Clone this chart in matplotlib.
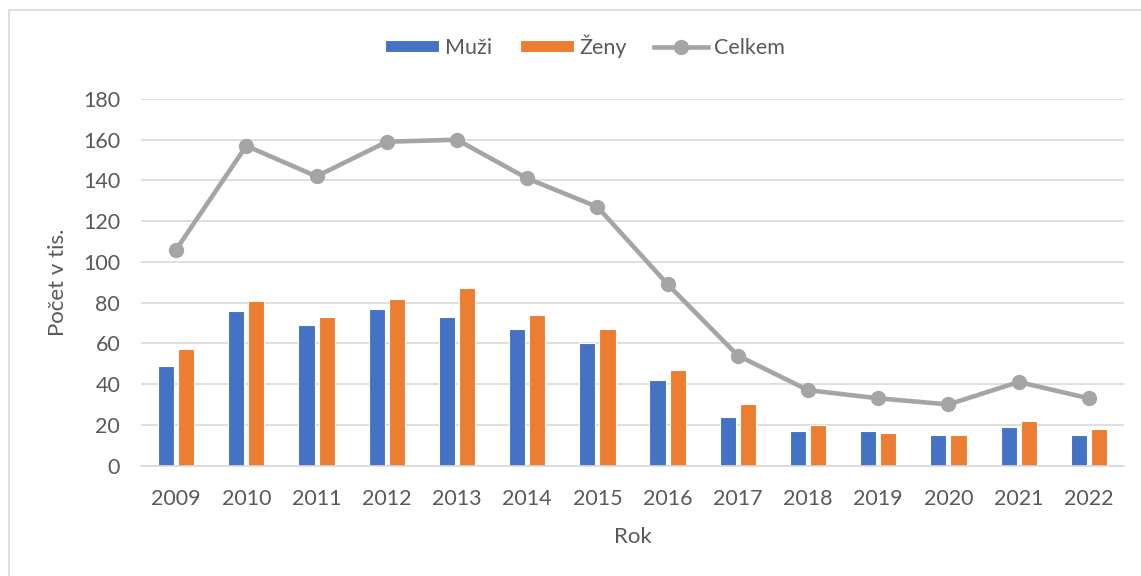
import matplotlib.pyplot as plt
import numpy as np
from matplotlib.lines import Line2D

plt.rcParams['font.family'] = ['Lato', 'DejaVu Sans']

# data (tisíce)
roky = ["2009", "2010", "2011", "2012", "2013", "2014", "2015",
        "2016", "2017", "2018", "2019", "2020", "2021", "2022"]
muzi = [49, 76, 69, 77, 73, 67, 60, 42, 24, 17, 17, 15, 19, 15]
zeny = [57, 81, 73, 82, 87, 74, 67, 47, 30, 20, 16, 15, 22, 18]
celkem = [106, 157, 142, 159, 160, 141, 127, 89, 54, 37, 33, 30, 41, 33]

text_col = "#595959"
grid_col = "#D9D9D9"

fig = plt.figure(figsize=(11.41, 5.76), dpi=100)
ax = fig.add_axes([141 / 1141, 1 - 465.5 / 576, (1124 - 141) / 1141, (465.5 - 99) / 576])

x = np.arange(len(roky))
w = 0.23
off = 0.143
b1 = ax.bar(x - off, muzi, w, color="#4472C4", edgecolor="white", linewidth=0.8,
            label="Muži", zorder=2)
b2 = ax.bar(x + off, zeny, w, color="#ED7D31", edgecolor="white", linewidth=0.8,
            label="Ženy", zorder=2)
l1, = ax.plot(x, celkem, color="#A5A5A5", lw=3.3, marker="o", markersize=10,
              label="Celkem", zorder=3)

ax.set_xlim(-0.5, len(roky) - 0.5)
ax.set_ylim(0, 180)
ax.set_yticks(range(0, 181, 20))
ax.set_xticks(x)
ax.set_xticklabels(roky)
ax.yaxis.grid(True, color=grid_col, lw=1.2, zorder=0)
ax.set_axisbelow(True)
for s in ["top", "right", "left"]:
    ax.spines[s].set_visible(False)
ax.spines["bottom"].set_color(grid_col)
ax.spines["bottom"].set_linewidth(1.2)
ax.tick_params(length=0, labelsize=15.5, labelcolor=text_col)
ax.tick_params(axis="y", pad=15)
ax.tick_params(axis="x", pad=17)

ax.set_ylabel("Počet v tis.", fontsize=16, color=text_col, labelpad=11)
ax.set_xlabel("Rok", fontsize=16, color=text_col, labelpad=13)

fig.legend(handles=[b1, b2, l1], loc="center",
           bbox_to_anchor=(585 / 1141, 1 - 46 / 576), ncol=3,
           frameon=False, fontsize=15.5, labelcolor=text_col,
           handlelength=2.5, handleheight=0.5, handletextpad=0.25,
           columnspacing=1.3)

# ramecek grafu
bx = 8.5 / 1141
by = 1 - 9.5 / 576
fig.add_artist(Line2D([bx, bx, 1], [0, by, by], transform=fig.transFigure,
                      color=grid_col, lw=1.2))

fig.savefig("out.png", dpi=100)
